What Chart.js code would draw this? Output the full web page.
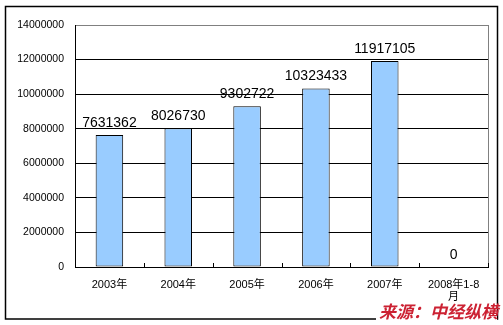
<!DOCTYPE html>
<html>
<head>
    <style>
        html, body { margin: 0; padding: 0; background: #fff; }
        #wrap { width: 503px; height: 325px; }
    </style>
    <script src="https://cdn.jsdelivr.net/npm/chart.js"></script>
</head>
<body>
    <div id="wrap">
        <canvas id="myBarChart" width="503" height="325"></canvas>
    </div>

    <script>
        // data
        const categories = ['2003年', '2004年', '2005年', '2006年', '2007年', ['2008年1-8', '月']];
        const values = [7631362, 8026730, 9302722, 10323433, 11917105, 0];
        const yMax = 14000000;
        const yStep = 2000000;
        const sourceText = '来源：中经纵横';

        // frame, value labels, small category ticks, source note
        const extras = {
            id: 'extras',
            afterDraw(chart) {
                const ctx = chart.ctx;
                const area = chart.chartArea;
                const xs = chart.scales.x;
                ctx.save();

                // right border of plot area (gray)
                ctx.strokeStyle = '#808080';
                ctx.lineWidth = 1;
                ctx.beginPath();
                ctx.moveTo(Math.round(area.right) + 0.5, area.top);
                ctx.lineTo(Math.round(area.right) + 0.5, area.bottom);
                ctx.stroke();

                // category tick marks pointing up into plot
                ctx.strokeStyle = '#000';
                ctx.beginPath();
                for (let i = 1; i <= categories.length; i++) {
                    const x = Math.round((xs.getPixelForTick(i - 1) + (i < categories.length ? xs.getPixelForTick(i) : area.right + (area.right - xs.getPixelForTick(i - 1)))) / 2) + 0.5;
                    ctx.moveTo(x, area.bottom);
                    ctx.lineTo(x, area.bottom - 4);
                }
                ctx.stroke();

                // value labels
                const meta = chart.getDatasetMeta(0);
                ctx.fillStyle = '#000';
                ctx.font = '14px "Liberation Sans", Arial, sans-serif';
                ctx.textAlign = 'center';
                ctx.textBaseline = 'bottom';
                meta.data.forEach((bar, i) => {
                    ctx.fillText(String(values[i]), bar.x, bar.y - 5);
                });

                // outer frame
                ctx.strokeStyle = '#000';
                ctx.lineWidth = 1.5;
                ctx.strokeRect(5.5, 6.5, 492, 312.5);

                // source
                ctx.font = 'italic bold 17px "Noto Sans CJK SC", sans-serif';
                ctx.textAlign = 'right';
                ctx.textBaseline = 'middle';
                const w = ctx.measureText(sourceText).width;
                ctx.fillStyle = '#fff';
                ctx.fillRect(497 - w - 2, 304, w + 2, 16);
                ctx.fillStyle = '#CC2233';
                ctx.fillText(sourceText, 498, 312);

                ctx.restore();
            }
        };

        const ctx = document.getElementById('myBarChart').getContext('2d');
        new Chart(ctx, {
            type: 'bar',
            data: {
                labels: categories,
                datasets: [{
                    data: values,
                    backgroundColor: '#99CCFF',
                    borderColor: '#000',
                    borderWidth: 1,
                    borderSkipped: false,
                    barPercentage: 0.4,
                    categoryPercentage: 1
                }]
            },
            options: {
                responsive: false,
                animation: false,
                layout: { padding: { left: 0, right: 15, top: 25, bottom: 0 } },
                plugins: {
                    legend: { display: false },
                    tooltip: { enabled: false }
                },
                scales: {
                    x: {
                        grid: { display: false, drawTicks: false },
                        border: { color: '#000', width: 1 },
                        ticks: {
                            color: '#000',
                            font: { size: 11, family: '"Liberation Sans", "Noto Sans CJK SC", sans-serif', lineHeight: 1.1 },
                            padding: 12,
                            maxRotation: 0,
                            autoSkip: false
                        },
                        afterFit(scale) { scale.height = 58; }
                    },
                    y: {
                        min: 0,
                        max: yMax,
                        grid: {
                            color: (c) => c.tick && c.tick.value === yMax ? '#808080' : '#000',
                            drawTicks: false
                        },
                        border: { color: '#000', width: 1 },
                        ticks: {
                            stepSize: yStep,
                            color: '#000',
                            font: { size: 10.5, family: '"Liberation Sans", Arial, sans-serif' },
                            padding: 11,
                            callback: (v) => String(v)
                        },
                        afterFit(scale) { scale.width = 75; }
                    }
                }
            },
            plugins: [extras]
        });
    </script>
</body>
</html>
